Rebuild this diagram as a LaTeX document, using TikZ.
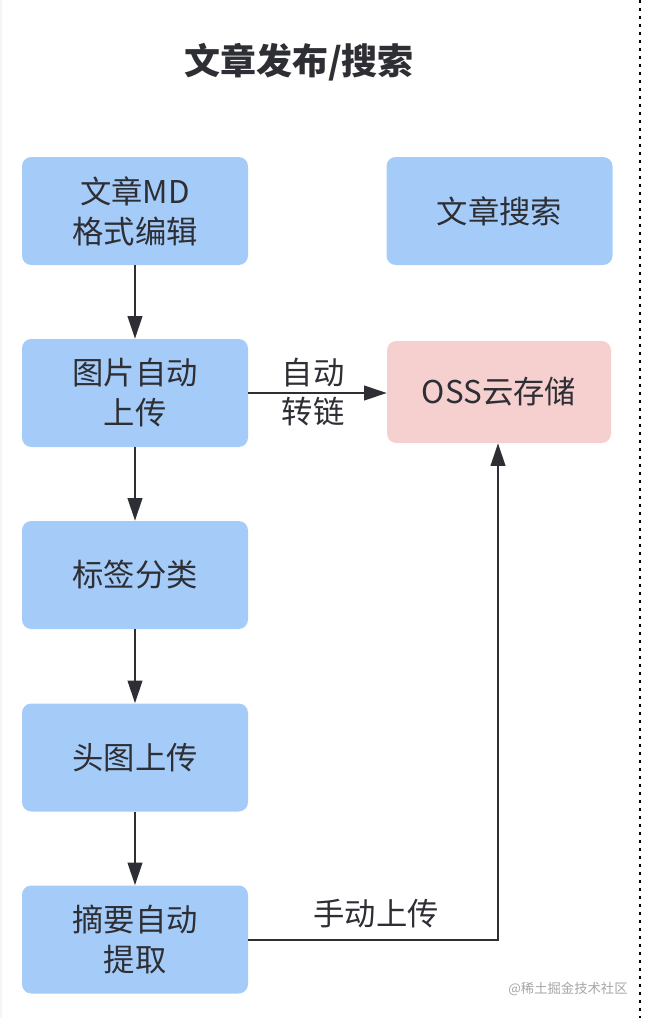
\documentclass[tikz,border=0pt]{standalone}
\usepackage{fontspec}
\setmainfont{Noto Sans CJK SC}
\usetikzlibrary{arrows.meta}
\definecolor{bluebox}{HTML}{A5CCF8}
\definecolor{pinkbox}{HTML}{F6D0CF}
\definecolor{txt}{HTML}{2E2E35}
\tikzset{
  box/.style={fill=#1, rounded corners=7pt, minimum width=169.5pt, minimum height=81pt, inner sep=0pt, align=center, text=txt, font=\fontsize{23.5}{30}\selectfont},
  conn/.style={draw=txt, line width=1.4pt, -{Triangle[length=17pt,width=11pt]}},
  lbl/.style={text=txt, font=\fontsize{23.5}{30}\selectfont, align=center, inner sep=0pt}
}
\begin{document}
\begin{tikzpicture}[x=0.75pt,y=-0.75pt]
\useasboundingbox[fill=white] (0,0) rectangle (648,1018);
\fill[gray!8] (0,0) rectangle (2,1018);
\draw[black, line width=1.5pt, dash pattern=on 2pt off 4pt] (640,0) -- (640,1018);
\node[text=txt, font=\bfseries\fontsize{27}{32}\selectfont, inner sep=0pt] (title) at (299,62) {文章发布/搜索};
\node[box=bluebox] (md) at (135,211) {文章MD\\格式编辑};
\node[box=bluebox] (search) at (499.5,211) {文章搜索};
\node[box=bluebox] (img) at (135,393) {图片自动\\上传};
\node[box=pinkbox, minimum width=168pt, minimum height=76.5pt] (oss) at (499,392) {OSS云存储};
\node[box=bluebox] (tag) at (135,575) {标签分类};
\node[box=bluebox] (head) at (135,757.5) {头图上传};
\node[box=bluebox] (abs) at (135,939.5) {摘要自动\\提取};
\draw[conn] (md) -- (img);
\draw[conn] (img) -- (tag);
\draw[conn] (tag) -- (head);
\draw[conn] (head) -- (abs);
\draw[conn] (img.east) -- (img.east -| oss.west);
\node[lbl] (l1) at (313,373) {自动};
\node[lbl] (l2) at (313,412) {转链};
\coordinate (corner) at (498,940);
\draw[conn] (abs.east |- corner) -- (corner) -- (oss.south -| corner);
\node[lbl] (l3) at (376,914) {手动上传};
\node[text=gray!70, font=\fontsize{10}{12}\selectfont, inner sep=0pt] (wm) at (568,989) {@稀土掘金技术社区};
\end{tikzpicture}
\end{document}
